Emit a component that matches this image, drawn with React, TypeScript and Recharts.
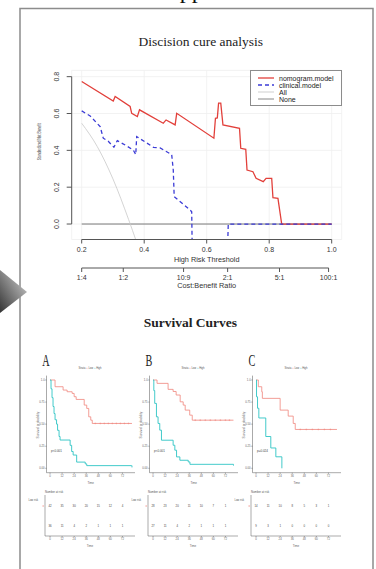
import React from "react";
import {
  LineChart,
  Line,
  XAxis,
  YAxis,
  CartesianGrid,
  Legend,
  ComposedChart,
  Scatter,
  ScatterChart,
} from "recharts";

const SANS = "'Liberation Sans', Arial, sans-serif";
const SERIF = "'Liberation Serif', 'Times New Roman', serif";

// ---- decision curve analysis ----
const nomogramThreshold = [0.2, 0.301, 0.307, 0.355, 0.36, 0.378, 0.385, 0.461, 0.47, 0.499, 0.504, 0.623, 0.628, 0.634, 0.638, 0.645, 0.652, 0.705, 0.709, 0.725, 0.729, 0.748, 0.758, 0.781, 0.79, 0.808, 0.812, 0.828, 0.84, 1.0];
const nomogramBenefit = [0.774, 0.668, 0.692, 0.638, 0.601, 0.583, 0.62, 0.547, 0.565, 0.538, 0.601, 0.466, 0.574, 0.576, 0.656, 0.656, 0.538, 0.52, 0.411, 0.406, 0.293, 0.284, 0.248, 0.23, 0.248, 0.248, 0.143, 0.139, 0, 0];

const clinicalThreshold = [0.2, 0.227, 0.259, 0.269, 0.285, 0.303, 0.314, 0.344, 0.365, 0.373, 0.376, 0.43, 0.451, 0.488, 0.493, 0.496, 0.547, 0.552, 0.555, 0.664, 0.669, 1.0];
const clinicalBenefit = [0.614, 0.587, 0.529, 0.466, 0.449, 0.417, 0.453, 0.424, 0.402, 0.377, 0.475, 0.416, 0.413, 0.377, 0.293, 0.149, 0.076, 0.067, -0.3, -0.3, 0, 0];

const allThreshold = [0.2, 0.25, 0.3, 0.35, 0.4];
const allBenefit = [0.547, 0.42, 0.245, 0.025, -0.22];

const noneThreshold = [0.2, 1.0];
const noneBenefit = [0, 0];

const seriesNames = ["nomogram.model", "clinical.model", "All", "None"];
const thresholdTicks = [0.2, 0.4, 0.6, 0.8, 1.0];
const benefitTicks = [0, 0.2, 0.4, 0.6, 0.8];
const costBenefitTicks = [0.2, 0.333, 0.526, 0.667, 0.833, 0.99];
const costBenefitLabels = ["1:4", "1:2", "10:9", "2:1", "5:1", "100:1"];

// ---- survival curves (months) ----
const monthTicks = [0, 12, 24, 36, 48, 60, 72];
const survivalTicks = [0, 0.25, 0.5, 0.75, 1];
const survivalTickLabels = ["0.00", "0.25", "0.50", "0.75", "1.0"];

const lowTimeA = [0, 5, 13, 17, 22, 24, 26, 34, 36.5, 38.5, 40.5, 42, 81.5];
const lowSurvA = [1, 0.924, 0.886, 0.867, 0.848, 0.811, 0.78, 0.716, 0.678, 0.583, 0.545, 0.508, 0.508];
const highTimeA = [0, 1, 2, 3, 4, 5, 6.5, 7.5, 9, 10, 20, 21.5, 23, 26.5, 35, 36.5, 81, 81.5];
const highSurvA = [1, 0.9, 0.8, 0.7, 0.62, 0.55, 0.5, 0.43, 0.36, 0.32, 0.26, 0.19, 0.15, 0.07, 0.05, 0.03, 0.03, 0.01];
const censorA = [45, 50, 54, 58, 62, 66, 70, 74, 78];
const lowRiskA = [42, 35, 30, 20, 15, 12, 4];
const highRiskA = [36, 11, 4, 2, 1, 1, 1];

const lowTimeB = [0, 4, 15, 20, 23, 27, 30, 32, 36.5, 39, 80];
const lowSurvB = [1, 0.962, 0.894, 0.87, 0.83, 0.753, 0.716, 0.659, 0.602, 0.545, 0.545];
const highTimeB = [0, 0.8, 1.7, 3.4, 5, 6.7, 8.4, 20, 21.7, 23.4, 26.7, 35, 36.7, 79.5, 80];
const highSurvB = [1, 0.88, 0.735, 0.583, 0.508, 0.432, 0.318, 0.261, 0.205, 0.129, 0.091, 0.072, 0.045, 0.045, 0.03];
const censorB = [42, 47, 52, 57, 62, 67, 72, 76];
const lowRiskB = [28, 23, 20, 11, 10, 7, 1];
const highRiskB = [27, 11, 4, 2, 1, 1, 1];

const lowTimeC = [0, 2.3, 5.7, 6.3, 24, 32, 37, 39, 80.5];
const lowSurvC = [1, 0.924, 0.867, 0.792, 0.659, 0.591, 0.508, 0.44, 0.44];
const highTimeC = [0, 0.5, 1.5, 2.8, 9.7, 14.7, 19.7, 25.7];
const highSurvC = [1, 0.81, 0.68, 0.57, 0.36, 0.23, 0.13, 0];
const censorC = [44, 50, 56, 62, 68, 74];
const lowRiskC = [14, 11, 10, 8, 5, 3, 1];
const highRiskC = [9, 3, 1, 0, 0, 0, 0];

const RED = "#e2403b";
const BLUE = "#3b3bd6";
const LOW = "#f0857c";
const HIGH = "#2ec4c4";

const pairs = (xs: number[], ys: number[]) => xs.map((t, i) => ({ t, nb: ys[i] }));
const steps = (xs: number[], ys: number[]) => xs.map((time, i) => ({ time, surv: ys[i] }));
const stepAt = (xs: number[], ys: number[], t: number) => {
  let v = ys[0];
  xs.forEach((x, i) => {
    if (x <= t) v = ys[i];
  });
  return v;
};

const panels = [
  { letter: "A", p: "p<0.001", lowT: lowTimeA, lowS: lowSurvA, highT: highTimeA, highS: highSurvA, censor: censorA, lowRisk: lowRiskA, highRisk: highRiskA },
  { letter: "B", p: "p<0.001", lowT: lowTimeB, lowS: lowSurvB, highT: highTimeB, highS: highSurvB, censor: censorB, lowRisk: lowRiskB, highRisk: highRiskB },
  { letter: "C", p: "p=0.024", lowT: lowTimeC, lowS: lowSurvC, highT: highTimeC, highS: highSurvC, censor: censorC, lowRisk: lowRiskC, highRisk: highRiskC },
];
const PANEL_STEP = 103;

const BenefitTick = (props: any) => {
  const { x, y, payload } = props;
  return (
    <text x={x} y={y} transform={`rotate(-90 ${x} ${y})`} textAnchor="middle" fontSize={7} fill="#333" fontFamily={SANS}>
      {payload.value.toFixed(1)}
    </text>
  );
};

const DcaLegend = () => (
  <div
    style={{
      boxSizing: "border-box",
      width: 92,
      height: 36,
      border: "1px solid #8c8c8c",
      background: "#fff",
      padding: "3.5px 0 0 7px",
      fontFamily: SANS,
      fontSize: 7,
      lineHeight: "7.1px",
      color: "#222",
    }}
  >
    {seriesNames.map((name, i) => (
      <div key={name} style={{ display: "flex", alignItems: "center", height: 7.1 }}>
        <svg width={16} height={6} style={{ marginRight: 5 }}>
          <line
            x1={0}
            x2={16}
            y1={3}
            y2={3}
            stroke={[RED, BLUE, "#c9c9c9", "#7a7a7a"][i]}
            strokeWidth={i < 2 ? 1.3 : 0.9}
            strokeDasharray={i === 1 ? "4 3" : undefined}
          />
        </svg>
        <span>{name}</span>
      </div>
    ))}
  </div>
);

const Plus = (props: any) => {
  const { cx, cy } = props;
  return (
    <path d={`M${cx - 0.9},${cy}H${cx + 0.9}M${cx},${cy - 0.9}V${cy + 0.9}`} stroke={LOW} strokeWidth={0.4} />
  );
};

const RiskText = (props: any) => {
  const { cx, cy, payload } = props;
  return (
    <text x={cx} y={cy} textAnchor="middle" dominantBaseline="central" fontSize={2.8} fill="#444" fontFamily={SANS}>
      {payload.n}
    </text>
  );
};

const RiskTick = (props: any) => {
  const { x, y, payload } = props;
  const low = payload.value === 1;
  return (
    <g>
      <line x1={x - 2.6} x2={x - 1} y1={y} y2={y} stroke={low ? LOW : HIGH} strokeWidth={0.8} />
      <text x={x - 7} y={y - 5} textAnchor="end" fontSize={2.6} fill="#555" fontFamily={SANS}>
        {low ? "Low risk" : "High risk"}
      </text>
    </g>
  );
};

function SurvivalPanel({ panel, dx }: { panel: any; dx: number }) {
  const low = steps(panel.lowT, panel.lowS);
  const high = steps(panel.highT, panel.highS);
  const censor = panel.censor.map((time: number) => ({ time, surv: stepAt(panel.lowT, panel.lowS, time) }));
  const risk = [
    ...monthTicks.map((time, i) => ({ time, row: 1, n: panel.lowRisk[i] })),
    ...monthTicks.map((time, i) => ({ time, row: 0, n: panel.highRisk[i] })),
  ];
  const axisTick = { fontSize: 2.8, fill: "#666", fontFamily: SANS };
  return (
    <>
      <div style={{ position: "absolute", left: 20 + dx, top: 370 }}>
        <ComposedChart width={120} height={115} margin={{ top: 5.6, right: 5, bottom: 0, left: 0 }}>
          <XAxis
            type="number"
            dataKey="time"
            domain={[-3.5, 84.5]}
            ticks={monthTicks}
            allowDataOverflow
            height={12.3}
            stroke="#555"
            strokeWidth={0.5}
            tickSize={1.2}
            tickMargin={0.8}
            tick={axisTick}
            label={{ value: "Time", position: "insideBottom", offset: 1, fontSize: 3, fill: "#666", fontFamily: SANS }}
          />
          <YAxis
            type="number"
            dataKey="surv"
            domain={[-0.05, 1.05]}
            ticks={survivalTicks}
            allowDataOverflow
            width={26.5}
            stroke="#555"
            strokeWidth={0.5}
            tickSize={1.2}
            tickMargin={0.6}
            tick={axisTick}
            tickFormatter={(v: number) => survivalTickLabels[survivalTicks.indexOf(v)]}
          />
          <Line data={low} dataKey="surv" type="stepAfter" stroke={LOW} strokeWidth={0.8} dot={false} isAnimationActive={false} />
          <Line data={high} dataKey="surv" type="stepAfter" stroke={HIGH} strokeWidth={0.9} dot={false} isAnimationActive={false} />
          <Scatter data={censor} dataKey="surv" shape={<Plus />} isAnimationActive={false} />
        </ComposedChart>
      </div>
      <div style={{ position: "absolute", left: 20 + dx, top: 488 }}>
        <ScatterChart width={120} height={66} margin={{ top: 7, right: 5, bottom: 5, left: 0 }}>
          <XAxis
            type="number"
            dataKey="time"
            domain={[-5, 84.5]}
            ticks={monthTicks}
            allowDataOverflow
            height={13}
            stroke="#555"
            strokeWidth={0.5}
            tickSize={1.2}
            tickMargin={0.8}
            tick={axisTick}
            label={{ value: "Time", position: "insideBottom", offset: 2, fontSize: 3, fill: "#666", fontFamily: SANS }}
          />
          <YAxis
            type="number"
            dataKey="row"
            domain={[-0.5, 1.55]}
            ticks={[0, 1]}
            allowDataOverflow
            width={25}
            stroke="#555"
            strokeWidth={0.5}
            tickLine={false}
            tickSize={0}
            tickMargin={0}
            tick={<RiskTick />}
          />
          <Scatter data={risk} shape={<RiskText />} isAnimationActive={false} />
        </ScatterChart>
      </div>
    </>
  );
}

export default function App() {
  const nomogram = pairs(nomogramThreshold, nomogramBenefit);
  const clinical = pairs(clinicalThreshold, clinicalBenefit);
  const all = pairs(allThreshold, allBenefit);
  const none = pairs(noneThreshold, noneBenefit);

  return (
    <div style={{ position: "absolute", left: 0, top: 0, width: 376, height: 569, overflow: "hidden", background: "#fff" }}>
      <div style={{ position: "absolute", left: 0, top: 0 }}>
        <LineChart width={376} height={300} margin={{ top: 70.4, right: 34.3, bottom: 10, left: 0 }}>
          <CartesianGrid xAxisId="a" stroke="#efefef" strokeWidth={0.8} />
          <XAxis
            xAxisId="a"
            type="number"
            dataKey="t"
            domain={[0.168, 1.032]}
            ticks={thresholdTicks}
            allowDataOverflow
            height={28.5}
            stroke="#555"
            axisLine={{ strokeDasharray: "0 10 250 100" }}
            tickSize={4}
            tickMargin={3.5}
            tick={{ fontSize: 7, fill: "#333", fontFamily: SANS }}
            tickFormatter={(v: number) => v.toFixed(1)}
            label={{ value: "High Risk Threshold", position: "insideBottom", offset: 6.4, fontSize: 7.3, fill: "#333", fontFamily: SANS }}
          />
          <XAxis
            xAxisId="b"
            type="number"
            dataKey="t"
            domain={[0.168, 1.032]}
            ticks={costBenefitTicks}
            allowDataOverflow
            height={22}
            stroke="#555"
            axisLine={{ strokeDasharray: "0 10 247 100" }}
            tickSize={4}
            tickMargin={3}
            tick={{ fontSize: 7, fill: "#333", fontFamily: SANS }}
            tickFormatter={(v: number) => costBenefitLabels[costBenefitTicks.indexOf(v)]}
            label={{ value: "Cost:Benefit Ratio", position: "insideBottom", offset: 1.7, fontSize: 7.3, fill: "#333", fontFamily: SANS }}
          />
          <YAxis
            type="number"
            dataKey="nb"
            domain={[-0.084, 0.834]}
            ticks={benefitTicks}
            allowDataOverflow
            width={71.7}
            stroke="#555"
            axisLine={{ strokeDasharray: "0 6.3 147.3 100" }}
            tickSize={5}
            tickMargin={7.5}
            tick={<BenefitTick />}
          />
          <Legend
            layout="vertical"
            align="center"
            verticalAlign="middle"
            wrapperStyle={{ left: 250, top: 70, width: 92 }}
            content={() => <DcaLegend />}
          />
          <Line xAxisId="a" data={none} dataKey="nb" stroke="#7a7a7a" strokeWidth={1} dot={false} isAnimationActive={false} />
          <Line xAxisId="a" data={all} dataKey="nb" type="monotone" stroke="#c9c9c9" strokeWidth={0.8} dot={false} isAnimationActive={false} />
          <Line xAxisId="a" data={nomogram} dataKey="nb" stroke={RED} strokeWidth={1.3} dot={false} isAnimationActive={false} />
          <Line xAxisId="a" data={clinical} dataKey="nb" stroke={BLUE} strokeWidth={1.3} strokeDasharray="4 3" dot={false} isAnimationActive={false} />
        </LineChart>
      </div>

      {panels.map((panel, i) => (
        <SurvivalPanel key={panel.letter} panel={panel} dx={i * PANEL_STEP} />
      ))}

      <svg width={376} height={569} style={{ position: "absolute", left: 0, top: 0, pointerEvents: "none" }}>
        <defs>
          <linearGradient id="arrowFill" x1="1" y1="0" x2="0" y2="1">
            <stop offset="0" stopColor="#d8d8d8" />
            <stop offset="1" stopColor="#333" />
          </linearGradient>
        </defs>
        <text x={87} y={-2} fontSize={24} fontFamily={SERIF} fill="#111">
          Clinical application value
        </text>
        <path d="M20,569 L20,8.5 L373,8.5 L373,569" fill="none" stroke="#8c8c8c" strokeWidth={1.5} />
        <polygon points="0,270 27,292 0,313" fill="url(#arrowFill)" />
        <text x={200.8} y={45.7} textAnchor="middle" fontSize={13.5} fontFamily={SERIF} fill="#222">
          Discision cure analysis
        </text>
        <text
          x={39}
          y={141.7}
          transform="rotate(-90 39 141.7)"
          textAnchor="middle"
          dominantBaseline="central"
          fontSize={6}
          textLength={37}
          lengthAdjust="spacingAndGlyphs"
          fontFamily={SANS}
          fill="#444"
        >
          Standardized Net Benefit
        </text>
        <text x={190.4} y={326.7} textAnchor="middle" fontSize={13.5} fontWeight="bold" fontFamily={SERIF} fill="#222">
          Survival Curves
        </text>
        {panels.map((panel, i) => {
          const dx = i * PANEL_STEP;
          return (
            <g key={panel.letter} fontFamily={SANS}>
              <text transform={`translate(${46 + dx} 366) scale(0.6 1)`} textAnchor="middle" fontSize={17} fontFamily={SERIF} fill="#222">
                {panel.letter}
              </text>
              <text x={90 + dx} y={369} textAnchor="middle" fontSize={2.6} fill="#555">
                Strata <tspan fill={LOW}>+</tspan> Low <tspan fill={HIGH}>+</tspan> High
              </text>
              <text x={51 + dx} y={452} fontSize={3} fill="#444">
                {panel.p}
              </text>
              <text x={39 + dx} y={425} transform={`rotate(-90 ${39 + dx} 425)`} textAnchor="middle" fontSize={3.2} fill="#666">
                Survival probability
              </text>
              <text x={45 + dx} y={492.5} fontSize={2.8} fill="#555">
                Number at risk
              </text>
            </g>
          );
        })}
      </svg>
    </div>
  );
}
